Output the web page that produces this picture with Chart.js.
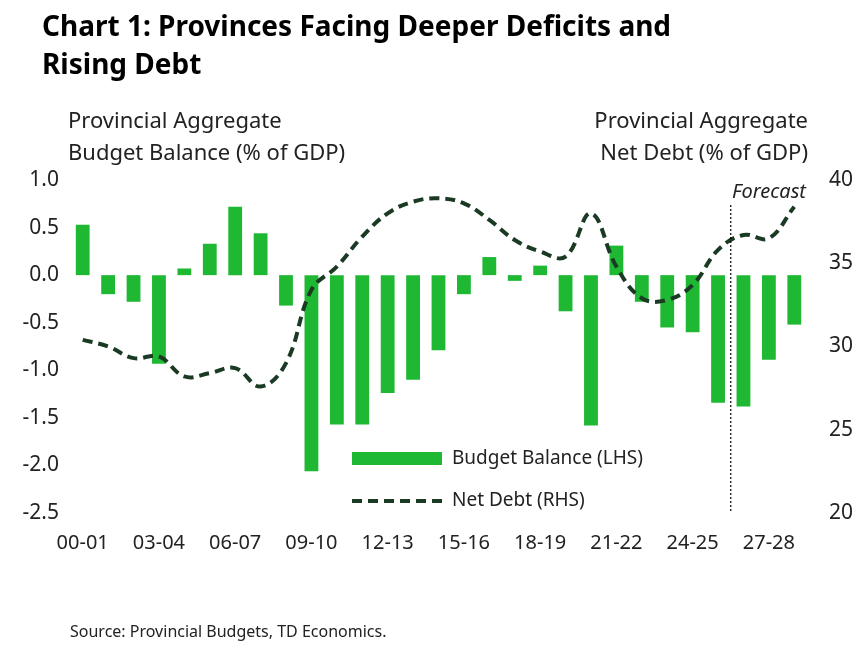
<!DOCTYPE html>
<html><head><meta charset="utf-8">
<script src="https://cdn.jsdelivr.net/npm/chart.js@4"></script>
<style>
body{margin:0;width:867px;height:647px;background:#fff;font-family:"Noto Sans",sans-serif;position:relative;overflow:hidden}
#t{position:absolute;left:42px;top:6px;font-size:28px;font-weight:bold;line-height:38px;color:#000}
#s{position:absolute;left:70px;top:620px;font-size:16px;color:#222}
#w{position:absolute;left:0;top:0;width:867px;height:647px}
</style></head><body>
<div id="w"><canvas id="c"></canvas></div>
<div id="t">Chart 1: Provinces Facing Deeper Deficits and<br>Rising Debt</div>
<div id="s">Source: Provincial Budgets, TD Economics.</div>
<script>
const years=[];for(let i=0;i<29;i++){const a=String(i).padStart(2,'0'),b=String(i+1).padStart(2,'0');years.push(a+'-'+b);}
const balance=[0.53,-0.2,-0.28,-0.93,0.07,0.33,0.72,0.44,-0.32,-2.06,-1.57,-1.57,-1.24,-1.1,-0.79,-0.2,0.19,-0.06,0.1,-0.38,-1.58,0.31,-0.28,-0.55,-0.6,-1.34,-1.38,-0.89,-0.52];
const netDebt=[30.4,30.0,29.3,29.4,28.2,28.4,28.7,27.6,29.0,33.4,34.8,36.6,38.0,38.7,38.9,38.6,37.6,36.4,35.7,35.4,38.0,34.8,32.9,32.8,33.7,35.8,36.7,36.5,38.4];
const leftTicks=[1.0,0.5,0.0,-0.5,-1.0,-1.5,-2.0,-2.5];
const rightTicks=[40,35,30,25,20];
const forecastAfter=25;
const GREEN='#1fb833',DARK='#1b3a24',F='"Noto Sans",sans-serif';
const deco={id:'deco',afterDraw(ch){const c=ch.ctx,a=ch.chartArea,x=ch.scales.x;
c.save();c.fillStyle='#222';c.font='22px '+F;
c.textAlign='left';c.fillText('Provincial Aggregate',68,128);c.fillText('Budget Balance (% of GDP)',68,160);
c.textAlign='right';c.fillText('Provincial Aggregate',808,128);c.fillText('Net Debt (% of GDP)',808,160);
const fx=(x.getPixelForValue(forecastAfter)+x.getPixelForValue(forecastAfter+1))/2;
c.strokeStyle='#000';c.lineWidth=1.2;c.setLineDash([2,2]);c.beginPath();c.moveTo(fx,205);c.lineTo(fx,a.bottom);c.stroke();
c.setLineDash([]);c.font='italic 20px '+F;c.fillText('Forecast',806,198);
c.fillStyle=GREEN;c.fillRect(352,452,90,13);
c.strokeStyle=DARK;c.lineWidth=4;c.setLineDash([10,6]);c.beginPath();c.moveTo(352,501);c.lineTo(442,501);c.stroke();
c.fillStyle='#222';c.font='19px '+F;c.textAlign='left';c.textBaseline='middle';
c.fillText('Budget Balance (LHS)',452,459);c.fillText('Net Debt (RHS)',452,501);
c.restore();}};
new Chart(document.getElementById('c'),{data:{labels:years,datasets:[
{type:'line',data:netDebt,yAxisID:'y2',borderColor:DARK,borderWidth:4,borderDash:[10,6],pointRadius:0,tension:0.4,fill:false,order:0},
{type:'bar',data:balance,yAxisID:'y',backgroundColor:GREEN,categoryPercentage:0.8,barPercentage:0.68,order:1}]},
options:{responsive:true,maintainAspectRatio:false,animation:false,
layout:{padding:{top:180,bottom:82,left:0,right:0}},
plugins:{legend:{display:false},tooltip:{enabled:false}},
scales:{
x:{offset:true,grid:{display:false},border:{display:false},ticks:{autoSkip:false,maxRotation:0,padding:10,color:'#222',font:{size:20,family:F},callback:(v,i)=>i%3===0?years[i]:''}},
y:{position:'left',min:-2.5,max:1.0,afterFit:s=>{s.width=70},grid:{display:false},border:{display:false},afterBuildTicks:s=>{s.ticks=leftTicks.map(v=>({value:v}))},ticks:{color:'#222',font:{size:21,family:F},callback:v=>v.toFixed(1)}},
y2:{position:'right',min:20,max:40,afterFit:s=>{s.width=60},grid:{display:false},border:{display:false},afterBuildTicks:s=>{s.ticks=rightTicks.map(v=>({value:v}))},ticks:{color:'#222',padding:14,font:{size:21,family:F}}}}},
plugins:[deco]});
</script></body></html>
